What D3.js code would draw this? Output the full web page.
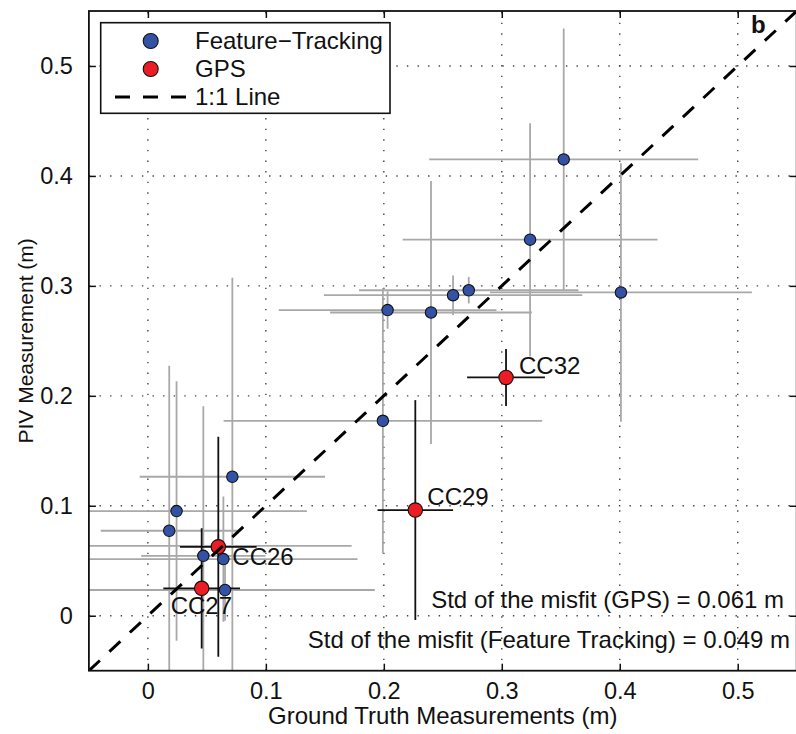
<!DOCTYPE html>
<html>
<head>
<meta charset="utf-8">
<script src="https://cdn.jsdelivr.net/npm/d3@7.9.0/dist/d3.min.js"></script>
<style>
  body { margin: 0; background: #fff; }
  svg { display: block; font-family: "Liberation Sans", Arial, sans-serif; }
</style>
</head>
<body>
<svg id="chart" width="796" height="734"></svg>
<script>
// Feature-tracking points: ground truth (x), PIV (y) and error half-widths
const ftX    = [0.3525, 0.324, 0.401, 0.272, 0.2587, 0.2032, 0.240, 0.1992, 0.0716, 0.0243, 0.0181, 0.047, 0.064, 0.0654, 0.0597];
const ftY    = [0.415, 0.342, 0.294, 0.296, 0.2915, 0.278, 0.2758, 0.1773, 0.1264, 0.0952, 0.0773, 0.0545, 0.0515, 0.0234, 0.0636];
const ftXErr = [0.114, 0.108, 0.111, 0.093, 0.1095, 0.0923, 0.0855, 0.135, 0.0786, 0.1105, 0.058, 0.0527, 0.1137, 0.127, 0.113];
const ftYErr = [0.119, 0.106, 0.1175, 0.012, 0.018, 0.017, 0.1196, 0.1206, 0.181, 0.118, 0.15, 0.136, 0.057, 0.028, 0.01];

// GPS stations
const gpsNames = ["CC32", "CC29", "CC26", "CC27"];
const gpsX     = [0.3036, 0.2267, 0.0597, 0.0456];
const gpsY     = [0.2167, 0.0961, 0.0627, 0.0249];
const gpsXErr  = [0.033, 0.032, 0.0325, 0.0325];
const gpsYErr  = [0.026, 0.1, 0.1, 0.0546];

const xTicks = [0, 0.1, 0.2, 0.3, 0.4, 0.5];
const yTicks = [0, 0.1, 0.2, 0.3, 0.4, 0.5];
const legendLabels = ["Feature\u2212Tracking", "GPS", "1:1 Line"];
const misfitLabels = ["Std of the misfit (GPS) = 0.061 m", "Std of the misfit (Feature Tracking) = 0.049 m"];

const svg = d3.select("#chart");
const blue = "#3352a6", red = "#ec1c24";

// scales
const x = d3.scaleLinear().domain([-0.05, 0.55]).range([88.9, 796.7]);
const y = d3.scaleLinear().domain([-0.05, 0.55]).range([670.7, 11]);
const [x0, x1] = x.range();
const [y0, y1] = y.range();

svg.append("defs").append("clipPath").attr("id", "plotClip")
  .append("rect").attr("x", x0).attr("y", y1).attr("width", x1 - x0).attr("height", y0 - y1);

// dotted grid
const grid = svg.append("g").attr("stroke", "#444").attr("stroke-width", 1.4)
  .attr("stroke-dasharray", "1.4,9.2");
grid.selectAll(".gx").data(xTicks).join("line")
  .attr("x1", d => x(d)).attr("x2", d => x(d)).attr("y1", y0).attr("y2", y1);
grid.selectAll(".gy").data(yTicks).join("line")
  .attr("y1", d => y(d)).attr("y2", d => y(d)).attr("x1", x0).attr("x2", x1);

const plot = svg.append("g").attr("clip-path", "url(#plotClip)");

// error bars
function errorBars(g, xs, ys, xe, ye, color) {
  const idx = d3.range(xs.length);
  g.selectAll(null).data(idx).join("line")
    .attr("x1", i => x(xs[i] - xe[i])).attr("x2", i => x(xs[i] + xe[i]))
    .attr("y1", i => y(ys[i])).attr("y2", i => y(ys[i]))
    .attr("stroke", color).attr("stroke-width", 1.8);
  g.selectAll(null).data(idx).join("line")
    .attr("x1", i => x(xs[i])).attr("x2", i => x(xs[i]))
    .attr("y1", i => y(ys[i] - ye[i])).attr("y2", i => y(ys[i] + ye[i]))
    .attr("stroke", color).attr("stroke-width", 1.8);
}
errorBars(plot.append("g"), ftX, ftY, ftXErr, ftYErr, "#a8a8a8");
errorBars(plot.append("g"), gpsX, gpsY, gpsXErr, gpsYErr, "#111");

// markers
plot.append("g").selectAll("circle").data(d3.range(ftX.length)).join("circle")
  .attr("cx", i => x(ftX[i])).attr("cy", i => y(ftY[i])).attr("r", 5.7)
  .attr("fill", blue).attr("stroke", "#111").attr("stroke-width", 1.1);
plot.append("g").selectAll("circle").data(d3.range(gpsX.length)).join("circle")
  .attr("cx", i => x(gpsX[i])).attr("cy", i => y(gpsY[i])).attr("r", 7.2)
  .attr("fill", red).attr("stroke", "#111").attr("stroke-width", 1.1);

// 1:1 line
plot.append("line")
  .attr("x1", x(-0.05)).attr("y1", y(-0.05)).attr("x2", x(0.55)).attr("y2", y(0.55))
  .attr("stroke", "#000").attr("stroke-width", 3).attr("stroke-dasharray", "15,13");

// station labels
const labelOffset = { CC32: [13, -3], CC29: [12, -5], CC26: [14, 18], CC27: [-31, 26] };
svg.append("g").selectAll("text").data(d3.range(gpsNames.length)).join("text")
  .attr("x", i => x(gpsX[i]) + labelOffset[gpsNames[i]][0])
  .attr("y", i => y(gpsY[i]) + labelOffset[gpsNames[i]][1])
  .attr("font-size", 24).attr("fill", "#111")
  .text(i => gpsNames[i]);

// axes with inward ticks
const fmt = d => d === 0 ? "0" : d3.format(".1f")(d);
const styleAxis = g => {
  g.select(".domain").remove();
  g.selectAll(".tick line").attr("stroke", "#111").attr("stroke-width", 1.5);
  g.selectAll(".tick text").attr("font-size", 23.5).attr("fill", "#111")
    .attr("font-family", "Liberation Sans, Arial, sans-serif");
};
svg.append("g").attr("transform", `translate(0,${y0})`)
  .call(d3.axisBottom(x).tickValues(xTicks).tickFormat(fmt).tickSize(-7).tickPadding(12))
  .call(styleAxis);
svg.append("g").attr("transform", `translate(0,${y1})`)
  .call(d3.axisTop(x).tickValues(xTicks).tickFormat("").tickSize(-7))
  .call(styleAxis);
svg.append("g").attr("transform", `translate(${x0},0)`)
  .call(d3.axisLeft(y).tickValues(yTicks).tickFormat(fmt).tickSize(-7).tickPadding(16))
  .call(styleAxis);
svg.append("g").attr("transform", `translate(${x1},0)`)
  .call(d3.axisRight(y).tickValues(yTicks).tickFormat("").tickSize(-7))
  .call(styleAxis);

// axes box
svg.append("rect").attr("x", x0).attr("y", y1).attr("width", x1 - x0).attr("height", y0 - y1)
  .attr("fill", "none").attr("stroke", "#111").attr("stroke-width", 1.8);

// axis titles
svg.append("text").attr("x", (x0 + x1) / 2).attr("y", 724)
  .attr("text-anchor", "middle").attr("font-size", 24).attr("fill", "#111")
  .text("Ground Truth Measurements (m)");
svg.append("text").attr("transform", `translate(33,${(y0 + y1) / 2}) rotate(-90)`)
  .attr("text-anchor", "middle").attr("font-size", 21).attr("fill", "#111")
  .text("PIV Measurement (m)");

// panel letter
svg.append("text").attr("x", 751).attr("y", 33).attr("font-size", 24)
  .attr("font-weight", "bold").attr("fill", "#111").text("b");

// misfit notes
svg.append("text").attr("x", 784).attr("y", 608).attr("text-anchor", "end")
  .attr("font-size", 24).attr("fill", "#111").text(misfitLabels[0]);
svg.append("text").attr("x", 790).attr("y", 648).attr("text-anchor", "end")
  .attr("font-size", 24).attr("fill", "#111").text(misfitLabels[1]);

// legend
const legend = svg.append("g");
legend.append("rect").attr("x", 100.7).attr("y", 22.7).attr("width", 289.3).attr("height", 90.6)
  .attr("fill", "#fff").attr("stroke", "#111").attr("stroke-width", 1.6);
const rowY = [41, 69, 97];
legend.append("circle").attr("cx", 150.7).attr("cy", rowY[0]).attr("r", 7.5)
  .attr("fill", blue).attr("stroke", "#111").attr("stroke-width", 1.1);
legend.append("circle").attr("cx", 150.7).attr("cy", rowY[1]).attr("r", 7.5)
  .attr("fill", red).attr("stroke", "#111").attr("stroke-width", 1.1);
legend.append("line").attr("x1", 115).attr("x2", 187).attr("y1", rowY[2]).attr("y2", rowY[2])
  .attr("stroke", "#000").attr("stroke-width", 3).attr("stroke-dasharray", "15,13");
legend.selectAll("text.lg").data(legendLabels).join("text")
  .attr("x", 195).attr("y", (d, i) => rowY[i] + 8)
  .attr("font-size", 24).attr("fill", "#111").text(d => d);
</script>
</body>
</html>
